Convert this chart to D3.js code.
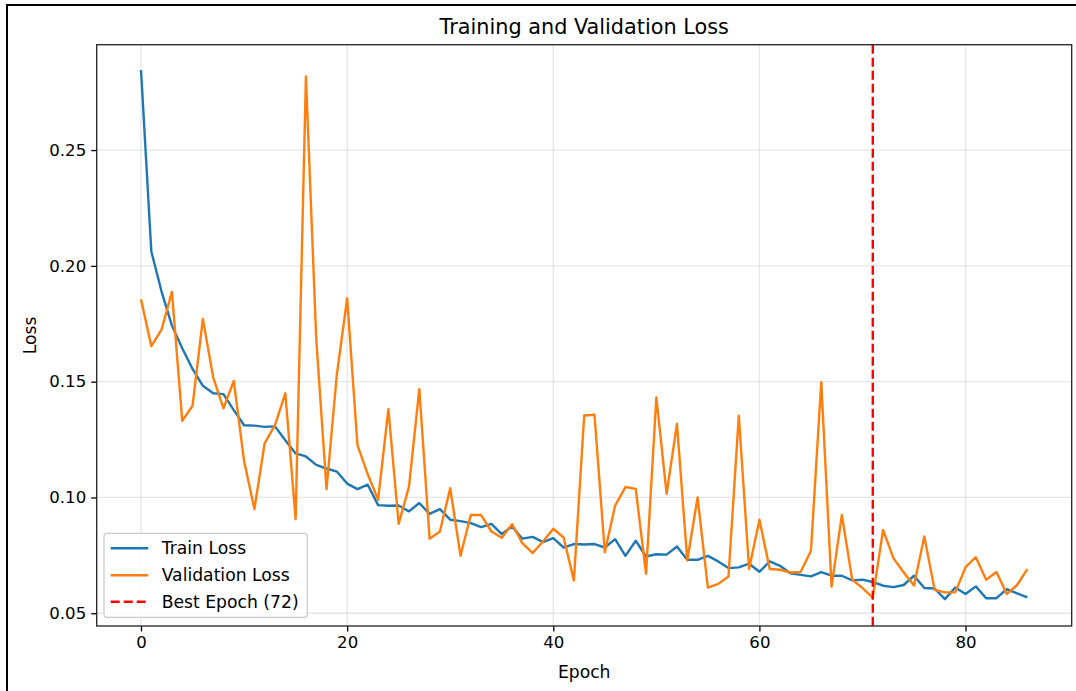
<!DOCTYPE html>
<html>
<head>
<meta charset="utf-8">
<script src="https://cdn.jsdelivr.net/npm/d3@7"></script>
<style>
  html, body { margin: 0; padding: 0; background: #fff; }
  svg { display: block; font-family: "DejaVu Sans", sans-serif; }
</style>
</head>
<body>
<svg id="chart" width="1076" height="691"></svg>
<script>
const epochs = d3.range(0, 87);
const trainLoss = [
  0.2846, 0.2062, 0.1888, 0.1742, 0.1644, 0.1555, 0.1482, 0.1450, 0.1446, 0.1377,
  0.1312, 0.1310, 0.1305, 0.1307, 0.1247, 0.1190, 0.1177, 0.1141, 0.1125, 0.1112,
  0.1060, 0.1036, 0.1055, 0.0967, 0.0964, 0.0965, 0.0940, 0.0976, 0.0929, 0.0950,
  0.0904, 0.0898, 0.0889, 0.0872, 0.0886, 0.0842, 0.0875, 0.0822, 0.0830, 0.0807,
  0.0824, 0.0784, 0.0799, 0.0797, 0.0799, 0.0784, 0.0820, 0.0748, 0.0813, 0.0745,
  0.0755, 0.0753, 0.0788, 0.0731, 0.0731, 0.0748, 0.0724, 0.0695, 0.0698, 0.0714,
  0.0679, 0.0724, 0.0705, 0.0673, 0.0666, 0.0659, 0.0678, 0.0662, 0.0662, 0.0642,
  0.0645, 0.0635, 0.0619, 0.0613, 0.0622, 0.0662, 0.0609, 0.0607, 0.0561, 0.0611,
  0.0583, 0.0616, 0.0565, 0.0565, 0.0604, 0.0586, 0.0569
];
const valLoss = [
  0.1856, 0.1653, 0.1726, 0.1888, 0.1331, 0.1396, 0.1771, 0.1519, 0.1385, 0.1503,
  0.1157, 0.0950, 0.1235, 0.1312, 0.1450, 0.0906, 0.2818, 0.1685, 0.1036, 0.1531,
  0.1860, 0.1226, 0.1100, 0.0990, 0.1381, 0.0886, 0.1047, 0.1468, 0.0822, 0.0853,
  0.1040, 0.0748, 0.0925, 0.0924, 0.0853, 0.0826, 0.0885, 0.0803, 0.0760, 0.0810,
  0.0865, 0.0827, 0.0642, 0.1354, 0.1357, 0.0763, 0.0965, 0.1045, 0.1037, 0.0670,
  0.1432, 0.1016, 0.1318, 0.0728, 0.1000, 0.0611, 0.0627, 0.0659, 0.1353, 0.0691,
  0.0904, 0.0691, 0.0688, 0.0676, 0.0678, 0.0770, 0.1498, 0.0615, 0.0925, 0.0645,
  0.0609, 0.0568, 0.0860, 0.0738, 0.0676, 0.0620, 0.0832, 0.0601, 0.0590, 0.0590,
  0.0699, 0.0742, 0.0645, 0.0678, 0.0583, 0.0622, 0.0691
];
const bestEpoch = 71;
const xTicks = [0, 20, 40, 60, 80];
const yTicks = [0.05, 0.10, 0.15, 0.20, 0.25];
const seriesNames = ["Train Loss", "Validation Loss", "Best Epoch (72)"];
const seriesColors = ["#1f77b4", "#ff7f0e", "#ff0000"];

const svg = d3.select("#chart");
const pLeft = 96.7, pRight = 1071.7, pTop = 44.7, pBottom = 626;

// figure border
svg.append("rect").attr("x", 7).attr("y", 5).attr("width", 1100).attr("height", 720)
  .attr("fill", "none").attr("stroke", "#000").attr("stroke-width", 2);

const x = d3.scaleLinear().domain([-4.3, 90.3]).range([pLeft, pRight]);
const y = d3.scaleLinear().domain([0.0445, 0.2955]).range([pBottom, pTop]);

// grid
const grid = svg.append("g");
grid.selectAll("line.gx").data(xTicks).join("line").attr("class", "gx")
  .attr("x1", d => x(d)).attr("x2", d => x(d)).attr("y1", pTop).attr("y2", pBottom)
  .attr("stroke", "#b0b0b0").attr("stroke-opacity", 0.3).attr("stroke-width", 1.3);
grid.selectAll("line.gy").data(yTicks).join("line").attr("class", "gy")
  .attr("y1", d => y(d)).attr("y2", d => y(d)).attr("x1", pLeft).attr("x2", pRight)
  .attr("stroke", "#b0b0b0").attr("stroke-opacity", 0.3).attr("stroke-width", 1.3);

// lines
svg.append("clipPath").attr("id", "clip").append("rect")
  .attr("x", pLeft).attr("y", pTop).attr("width", pRight - pLeft).attr("height", pBottom - pTop);
const plot = svg.append("g").attr("clip-path", "url(#clip)");
const lineGen = arr => d3.line().x((d, i) => x(epochs[i])).y(d => y(d))(arr);
plot.append("path").attr("d", lineGen(trainLoss)).attr("fill", "none")
  .attr("stroke", seriesColors[0]).attr("stroke-width", 2.4).attr("stroke-linejoin", "round");
plot.append("path").attr("d", lineGen(valLoss)).attr("fill", "none")
  .attr("stroke", seriesColors[1]).attr("stroke-width", 2.4).attr("stroke-linejoin", "round");
plot.append("line").attr("x1", x(bestEpoch)).attr("x2", x(bestEpoch))
  .attr("y1", pTop).attr("y2", pBottom)
  .attr("stroke", seriesColors[2]).attr("stroke-width", 2.4).attr("stroke-dasharray", "9,4");

// axes
const fs = 16.6;
const fsLab = 17.2;
const xAxis = svg.append("g").attr("transform", `translate(0,${pBottom})`)
  .call(d3.axisBottom(x).tickValues(xTicks).tickFormat(d3.format("d")).tickSize(5.5).tickPadding(5));
const yAxis = svg.append("g").attr("transform", `translate(${pLeft},0)`)
  .call(d3.axisLeft(y).tickValues(yTicks).tickFormat(d3.format(".2f")).tickSize(5.5).tickPadding(5));
[xAxis, yAxis].forEach(a => {
  a.select(".domain").remove();
  a.selectAll("line").attr("stroke", "#000").attr("stroke-width", 1.3);
  a.selectAll("text").attr("font-size", fs).attr("fill", "#000").attr("font-family", "DejaVu Sans");
});

// spines
svg.append("rect").attr("x", pLeft).attr("y", pTop).attr("width", pRight - pLeft).attr("height", pBottom - pTop)
  .attr("fill", "none").attr("stroke", "#222").attr("stroke-width", 1.3);

// title & labels
svg.append("text").attr("x", (pLeft + pRight) / 2).attr("y", 34).attr("text-anchor", "middle")
  .attr("font-size", 20.8).attr("fill", "#000").text("Training and Validation Loss");
svg.append("text").attr("x", (pLeft + pRight) / 2).attr("y", 678).attr("text-anchor", "middle")
  .attr("font-size", fsLab).attr("fill", "#000").text("Epoch");
svg.append("text").attr("transform", `translate(36,${(pTop + pBottom) / 2}) rotate(-90)`)
  .attr("text-anchor", "middle").attr("font-size", fsLab).attr("fill", "#000").text("Loss");

// legend
const lg = svg.append("g");
lg.append("rect").attr("x", 104).attr("y", 533.3).attr("width", 203.3).attr("height", 84)
  .attr("rx", 3).attr("fill", "#fff").attr("fill-opacity", 0.8)
  .attr("stroke", "#cccccc").attr("stroke-width", 1.3);
const rowsY = [548.3, 575.3, 601.7];
seriesNames.forEach((name, i) => {
  lg.append("line").attr("x1", 110.7).attr("x2", 148.3).attr("y1", rowsY[i]).attr("y2", rowsY[i])
    .attr("stroke", seriesColors[i]).attr("stroke-width", 2.4)
    .attr("stroke-dasharray", i === 2 ? "9,4" : null);
  lg.append("text").attr("x", 161.7).attr("y", rowsY[i]).attr("dy", "0.36em")
    .attr("font-size", fsLab).attr("fill", "#000").text(name);
});
</script>
</body>
</html>
